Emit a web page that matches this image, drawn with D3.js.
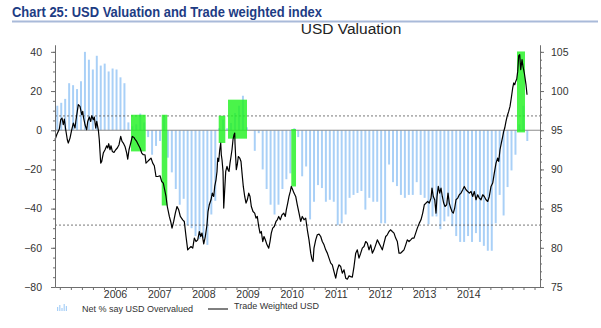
<!DOCTYPE html>
<html>
<head>
<meta charset="utf-8">
<script src="https://cdn.jsdelivr.net/npm/d3@7"></script>
<style>
  body { margin: 0; background: #fff; }
  svg { display: block; }
  text { font-family: "Liberation Sans", Arial, sans-serif; }
</style>
</head>
<body>
<svg id="chart" width="601" height="328"></svg>
<script>
// Net % of fund managers saying USD is overvalued (monthly survey)
var usdOvervalued = [12.5, 14, 16, 24, 23, 21, 25, 40, 36, 31, 38, 33, 34, 30, 31.5, 31, 27, 24, 4, 2,
  3, 8.5, 4, -3.5, -12.5, -8, -5.5, 7.5, -14, -21.5, -30, -38, -35, -48.5, -50, -54, -55.5, -55, -58.5, -43,
  -36, 1, 5.5, 1, 3.7, 8.8, 12.5, 17.6, 1.5, 0, -10.5, -1.5, -20, -30, -38, -43, -38, -30, -25, -22,
  1, -3.5, -23.5, -18.5, -45.5, -36.5, -28, -29.5, -36.5, -35.5, -36.5, -48.5, -47.5, -43, -34.5, -33, -32, -31, -40.5, -34.5,
  -36.5, -36.5, -47.5, -47.5, -17.5, -26.5, -28.5, -33, -34.5, -33, -33, -26.5, -33, -34.5, -48, -44, -44, -50.5, -46.5, -44,
  -49, -54, -57, -57, -54, -57, -52.5, -57, -59, -61.5, -61.5, -47.5, -33, -43.5, -29, -20.5, -12.5, 3, 12.5, -5.5];

// Trade weighted USD, dates as decimal years
var twYears = [2004.641, 2004.680, 2004.739, 2004.770, 2004.800, 2004.829, 2004.852, 2004.884, 2004.920, 2004.942,
  2004.981, 2005.019, 2005.056, 2005.094, 2005.117, 2005.146, 2005.169, 2005.207, 2005.246, 2005.269,
  2005.282, 2005.321, 2005.359, 2005.382, 2005.418, 2005.450, 2005.472, 2005.509, 2005.531, 2005.563,
  2005.586, 2005.622, 2005.644, 2005.660, 2005.676, 2005.699, 2005.735, 2005.774, 2005.812, 2005.835,
  2005.857, 2005.887, 2005.909, 2005.939, 2005.977, 2006.016, 2006.052, 2006.091, 2006.129, 2006.159,
  2006.188, 2006.226, 2006.265, 2006.288, 2006.317, 2006.356, 2006.392, 2006.430, 2006.460, 2006.491,
  2006.528, 2006.566, 2006.605, 2006.641, 2006.679, 2006.702, 2006.741, 2006.777, 2006.815, 2006.854,
  2006.890, 2006.928, 2006.967, 2007.019, 2007.058, 2007.094, 2007.125, 2007.155, 2007.184, 2007.230,
  2007.261, 2007.291, 2007.329, 2007.366, 2007.404, 2007.442, 2007.479, 2007.533, 2007.569, 2007.608,
  2007.646, 2007.683, 2007.721, 2007.760, 2007.796, 2007.834, 2007.873, 2007.909, 2007.941, 2007.970,
  2008.009, 2008.045, 2008.083, 2008.106, 2008.135, 2008.174, 2008.203, 2008.235, 2008.258, 2008.287,
  2008.310, 2008.326, 2008.348, 2008.371, 2008.394, 2008.407, 2008.423, 2008.446, 2008.462, 2008.484,
  2008.507, 2008.536, 2008.559, 2008.582, 2008.604, 2008.627, 2008.649, 2008.672, 2008.695, 2008.711,
  2008.717, 2008.747, 2008.769, 2008.792, 2008.824, 2008.853, 2008.876, 2008.905, 2008.937, 2008.967,
  2008.996, 2009.028, 2009.057, 2009.087, 2009.125, 2009.163, 2009.193, 2009.222, 2009.254, 2009.284,
  2009.313, 2009.345, 2009.374, 2009.404, 2009.442, 2009.481, 2009.510, 2009.539, 2009.571, 2009.607,
  2009.646, 2009.675, 2009.707, 2009.743, 2009.782, 2009.820, 2009.856, 2009.879, 2009.911, 2009.940,
  2009.970, 2009.992, 2010.024, 2010.053, 2010.092, 2010.128, 2010.167, 2010.205, 2010.241, 2010.280,
  2010.318, 2010.355, 2010.393, 2010.432, 2010.454, 2010.484, 2010.506, 2010.545, 2010.581, 2010.620,
  2010.658, 2010.694, 2010.733, 2010.771, 2010.808, 2010.846, 2010.885, 2010.921, 2010.959, 2010.998,
  2011.034, 2011.073, 2011.111, 2011.147, 2011.186, 2011.224, 2011.261, 2011.299, 2011.337, 2011.374,
  2011.412, 2011.451, 2011.487, 2011.525, 2011.564, 2011.600, 2011.639, 2011.677, 2011.713, 2011.752,
  2011.790, 2011.827, 2011.865, 2011.904, 2011.940, 2011.978, 2012.017, 2012.053, 2012.091, 2012.130,
  2012.166, 2012.205, 2012.243, 2012.279, 2012.318, 2012.356, 2012.393, 2012.431, 2012.470, 2012.506,
  2012.544, 2012.583, 2012.619, 2012.658, 2012.696, 2012.732, 2012.771, 2012.809, 2012.846, 2012.891,
  2012.929, 2012.968, 2013.004, 2013.043, 2013.081, 2013.117, 2013.156, 2013.178, 2013.208, 2013.240,
  2013.269, 2013.292, 2013.321, 2013.353, 2013.382, 2013.412, 2013.443, 2013.473, 2013.511, 2013.541,
  2013.570, 2013.602, 2013.631, 2013.661, 2013.692, 2013.722, 2013.760, 2013.797, 2013.835, 2013.874,
  2013.910, 2013.948, 2013.987, 2014.023, 2014.062, 2014.100, 2014.136, 2014.175, 2014.213, 2014.250,
  2014.288, 2014.327, 2014.363, 2014.401, 2014.440, 2014.476, 2014.515, 2014.553, 2014.589, 2014.628,
  2014.666, 2014.689, 2014.718, 2014.748, 2014.780, 2014.802, 2014.825, 2014.854, 2014.884, 2014.915,
  2014.945, 2014.974, 2015.006, 2015.029, 2015.051, 2015.074, 2015.097, 2015.119, 2015.142, 2015.165,
  2015.187, 2015.217, 2015.239, 2015.269, 2015.307, 2015.330];

var twLevel = [93.79, 94.43, 95.15, 96.34, 96.56, 95.70, 96.43, 95.06, 93.79, 93.37,
  94.00, 95.06, 95.92, 95.28, 96.34, 97.40, 98.26, 98.04, 96.98, 97.40,
  96.76, 95.70, 95.06, 96.12, 96.69, 96.12, 96.85, 96.34, 96.69, 95.28,
  96.12, 95.06, 93.79, 92.29, 90.81, 91.02, 92.09, 92.51, 93.02, 92.73,
  93.28, 92.51, 93.02, 92.29, 92.17, 92.51, 92.73, 93.15, 94.21, 93.57,
  93.37, 92.93, 92.09, 91.32, 92.51, 93.37, 94.21, 94.08, 93.79, 93.57,
  93.15, 92.73, 92.09, 91.87, 91.87, 90.81, 91.02, 91.23, 91.45, 90.81,
  90.47, 89.10, 89.10, 89.19, 88.46, 88.26, 87.40, 86.55, 85.27, 84.00,
  83.36, 82.51, 83.36, 84.43, 85.27, 84.85, 84.00, 83.57, 83.36, 81.44,
  79.74, 79.96, 80.16, 79.96, 81.24, 80.80, 81.02, 82.08, 81.44, 81.88,
  80.51, 81.44, 82.94, 84.63, 85.49, 86.13, 86.98, 86.55, 87.83, 88.68,
  89.74, 91.45, 91.02, 92.51, 93.37, 91.87, 91.23, 89.74, 85.07, 87.40,
  89.74, 90.38, 89.96, 89.74, 90.81, 91.65, 92.51, 93.79, 94.43, 94.64,
  93.37, 89.96, 90.60, 91.65, 91.45, 91.02, 89.54, 87.83, 86.55, 85.71,
  86.13, 86.98, 86.55, 85.27, 84.63, 84.43, 83.79, 84.00, 82.72, 81.88,
  82.08, 80.80, 81.44, 81.02, 80.38, 79.96, 80.80, 81.88, 82.51, 82.72,
  83.36, 83.57, 84.00, 83.57, 84.21, 84.43, 84.00, 84.85, 85.71, 86.55,
  87.19, 87.83, 87.40, 86.98, 86.55, 85.49, 84.43, 83.36, 84.00, 83.57,
  83.79, 82.30, 81.02, 79.32, 78.68, 78.25, 79.96, 81.02, 81.66, 81.75,
  81.44, 80.80, 80.38, 79.74, 79.32, 78.68, 78.05, 77.83, 76.97, 76.13,
  77.19, 77.83, 77.61, 76.77, 77.19, 76.13, 76.00, 76.42, 76.33, 76.26,
  77.61, 79.32, 79.74, 78.68, 79.32, 79.96, 80.16, 80.80, 80.60, 79.74,
  80.38, 79.32, 79.74, 80.38, 81.02, 80.60, 80.16, 79.74, 80.60, 81.44,
  81.66, 82.08, 82.30, 82.08, 81.88, 81.24, 80.80, 79.32, 79.32, 79.53,
  79.74, 80.38, 81.02, 80.80, 81.02, 81.24, 81.24, 81.88, 82.51, 83.15,
  83.57, 84.43, 85.49, 85.71, 85.91, 85.71, 86.34, 87.62, 86.55, 86.13,
  84.43, 86.55, 87.83, 86.98, 87.62, 86.55, 85.71, 85.27, 85.49, 86.98,
  85.71, 85.07, 84.63, 84.43, 85.07, 86.13, 86.34, 86.77, 86.98, 87.40,
  87.83, 87.40, 87.19, 86.98, 87.19, 86.55, 87.19, 86.13, 86.77, 86.34,
  86.13, 86.77, 86.55, 86.13, 85.91, 86.55, 87.83, 88.26, 89.54, 90.81,
  91.45, 91.02, 92.51, 93.37, 94.21, 94.85, 95.28, 96.12, 96.85, 97.40,
  98.04, 99.11, 100.39, 101.03, 100.81, 101.23, 101.54, 102.51, 104.51, 104.64,
  102.72, 104.00, 103.15, 102.30, 100.81, 99.53];

// highlighted episodes: from / to (years), top / bottom (net %)
var hlFrom = [2006.362, 2007.058, 2008.348, 2008.559, 2009.992, 2015.103];
var hlTo = [2006.695, 2007.184, 2008.498, 2008.989, 2010.099, 2015.284];
var hlTop = [7.9, 7.9, 7.4, 15.6, 0.6, 40.2];
var hlBottom = [-10.8, -38.4, -6.5, -4.3, -28.7, -1.1];

var refLevels = [7.3, -48.4];
var yearTicks = [2006, 2007, 2008, 2009, 2010, 2011, 2012, 2013, 2014];
var leftTicks = [40, 20, 0, -20, -40, -60, -80];
var rightTicks = [105, 100, 95, 90, 85, 80, 75];

var svg = d3.select('#chart');
var plotLeft = 55, plotRight = 540, plotTop = 45, plotBottom = 287;

var x = d3.scaleLinear().domain([2004.641, 2015.624]).range([plotLeft, plotRight]);
var yL = d3.scaleLinear().domain([-80, 43.5]).range([plotBottom, plotTop]);
var yR = d3.scaleLinear().domain([75, 105.875]).range([plotBottom, plotTop]);
// survey bars sit on their own category axis
var xBar = d3.scaleBand().domain(d3.range(usdOvervalued.length))
  .range([plotLeft, 529.6]).paddingInner(0.5).paddingOuter(0.33);

// title
svg.append('text')
  .attr('x', 12).attr('y', 17)
  .attr('textLength', 310).attr('lengthAdjust', 'spacingAndGlyphs')
  .style('font-family', '"Liberation Sans Narrow", "Arial Narrow", "Liberation Sans", sans-serif')
  .style('font-weight', 'bold').style('font-size', '15.5px')
  .attr('fill', '#1d3c84')
  .text('Chart 25: USD Valuation and Trade weighted index');

svg.append('line')
  .attr('x1', 12).attr('x2', 598).attr('y1', 21.5).attr('y2', 21.5)
  .attr('stroke', '#a9bad9').attr('stroke-width', 2);

svg.append('text')
  .attr('x', 351).attr('y', 34).attr('text-anchor', 'middle')
  .style('font-size', '15.5px').attr('fill', '#222')
  .text('USD Valuation');

// bars
svg.append('g').selectAll('rect')
  .data(usdOvervalued)
  .enter()
  .append('rect')
  .attr('x', function(d, i) { return xBar(i); })
  .attr('width', xBar.bandwidth())
  .attr('y', function(d) { return yL(Math.max(0, d)); })
  .attr('height', function(d) { return Math.abs(yL(d) - yL(0)); })
  .attr('fill', '#a9d0f7');

// zero line
svg.append('line')
  .attr('x1', plotLeft).attr('x2', plotRight).attr('y1', yL(0)).attr('y2', yL(0))
  .attr('stroke', '#8c8c8c').attr('stroke-width', 1);

// dotted reference levels
svg.append('g').selectAll('line')
  .data(refLevels)
  .enter()
  .append('line')
  .attr('x1', plotLeft).attr('x2', plotRight)
  .attr('y1', function(d) { return yL(d); })
  .attr('y2', function(d) { return yL(d); })
  .attr('stroke', '#555').attr('stroke-width', 0.8)
  .attr('stroke-dasharray', '2,2');

// green highlight boxes
svg.append('g').selectAll('rect')
  .data(hlFrom)
  .enter()
  .append('rect')
  .attr('x', function(d) { return x(d); })
  .attr('width', function(d, i) { return x(hlTo[i]) - x(d); })
  .attr('y', function(d, i) { return yL(hlTop[i]); })
  .attr('height', function(d, i) { return yL(hlBottom[i]) - yL(hlTop[i]); })
  .attr('fill', '#22f222').attr('opacity', 0.82);

// trade weighted line
var tw = twYears.map(function(d, i) { return [d, twLevel[i]]; });
svg.append('path')
  .datum(tw)
  .attr('d', d3.line()
    .x(function(d) { return x(d[0]); })
    .y(function(d) { return yR(d[1]); }))
  .attr('fill', 'none')
  .attr('stroke', '#000')
  .attr('stroke-width', 1.2)
  .attr('stroke-linejoin', 'round');

// axes
function styleAxis(g) {
  g.selectAll('path, line').attr('stroke', '#6e6e6e');
  g.selectAll('text').attr('fill', '#333').style('font-size', '10.5px')
    .style('font-family', '"Liberation Sans", Arial, sans-serif');
}

svg.append('g').attr('transform', 'translate(' + plotLeft + ',0)')
  .call(d3.axisLeft(yL).tickValues(d3.range(-80, 44, 5)).tickSize(2).tickSizeOuter(0).tickFormat(''))
  .call(styleAxis);
svg.append('g').attr('transform', 'translate(' + plotLeft + ',0)')
  .call(d3.axisLeft(yL).tickValues(leftTicks).tickSize(4).tickPadding(9).tickSizeOuter(0))
  .call(styleAxis);

svg.append('g').attr('transform', 'translate(' + plotRight + ',0)')
  .call(d3.axisRight(yR).tickValues(d3.range(75, 106, 1)).tickSize(2).tickSizeOuter(0).tickFormat(''))
  .call(styleAxis);
svg.append('g').attr('transform', 'translate(' + plotRight + ',0)')
  .call(d3.axisRight(yR).tickValues(rightTicks).tickSize(4).tickPadding(7).tickSizeOuter(0))
  .call(styleAxis);

svg.append('g').attr('transform', 'translate(0,' + plotBottom + ')')
  .call(d3.axisBottom(x).tickValues(d3.range(2004.75, 2015.6, 0.25)).tickSize(3).tickSizeOuter(0).tickFormat(''))
  .call(styleAxis);
svg.append('g').attr('transform', 'translate(0,' + plotBottom + ')')
  .call(d3.axisBottom(x).tickValues(yearTicks).tickSize(0).tickPadding(4).tickFormat(d3.format('d')))
  .call(styleAxis)
  .call(function(g) { g.select('.domain').remove(); });

// legend
var legend = svg.append('g');
legend.selectAll('rect')
  .data([4, 6, 3, 7, 5])
  .enter()
  .append('rect')
  .attr('x', function(d, i) { return 57 + i * 2.2; })
  .attr('y', function(d) { return 311 - d; })
  .attr('width', 1.2)
  .attr('height', function(d) { return d; })
  .attr('fill', '#a9d0f7');
legend.append('text')
  .attr('x', 82).attr('y', 311.5)
  .style('font-size', '9px').attr('fill', '#333')
  .text('Net % say USD Overvalued');
legend.append('line')
  .attr('x1', 208).attr('x2', 228).attr('y1', 309).attr('y2', 309)
  .attr('stroke', '#000').attr('stroke-width', 1);
legend.append('text')
  .attr('x', 234).attr('y', 309)
  .style('font-size', '9px').attr('fill', '#333')
  .text('Trade Weighted USD');
</script>
</body>
</html>
